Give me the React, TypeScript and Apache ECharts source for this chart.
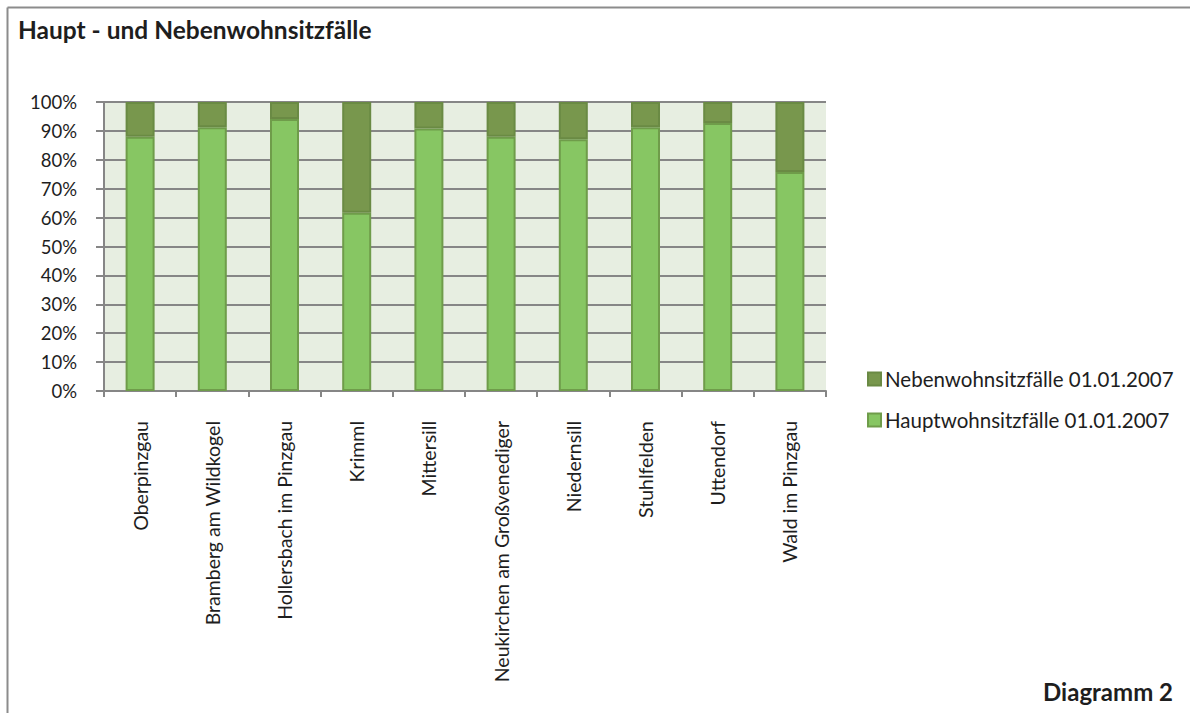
import React, { useEffect, useRef } from "react";
import * as echarts from "echarts";

const categories = [
  "Oberpinzgau",
  "Bramberg am Wildkogel",
  "Hollersbach im Pinzgau",
  "Krimml",
  "Mittersill",
  "Neukirchen am Großvenediger",
  "Niedernsill",
  "Stuhlfelden",
  "Uttendorf",
  "Wald im Pinzgau",
];
const hauptName = "Hauptwohnsitzfälle 01.01.2007";
const nebenName = "Nebenwohnsitzfälle 01.01.2007";
const hauptValues = [88.0, 91.3, 94.1, 61.7, 90.8, 88.0, 87.1, 91.3, 92.7, 75.8];
const nebenValues = [12.0, 8.7, 5.9, 38.3, 9.2, 12.0, 12.9, 8.7, 7.3, 24.2];
const titleText = "Haupt - und Nebenwohnsitzfälle";
const footerText = "Diagramm 2";

const FONT = "Lato, 'Noto Sans', sans-serif";

export default function App() {
  const ref = useRef<HTMLDivElement>(null);
  useEffect(() => {
    if (!ref.current) return;
    const chart = echarts.init(ref.current, null, { renderer: "svg" });
    chart.setOption({
      animation: false,
      backgroundColor: "#ffffff",
      title: {
        text: titleText,
        left: 18,
        top: 17,
        padding: 0,
        textStyle: { fontFamily: FONT, fontWeight: "bold", fontSize: 24.5, color: "#1e1e1e" },
      },
      legend: {
        orient: "vertical",
        left: 862,
        top: 363,
        itemWidth: 13,
        itemHeight: 13,
        itemGap: 19,
        icon: "rect",
        data: [nebenName, hauptName],
        textStyle: { fontFamily: FONT, fontSize: 20.5, color: "#1e1e1e", lineHeight: 22, padding: [0, 0, 0, -1] },
      },
      grid: { left: 104, top: 102, right: 364, bottom: 322, containLabel: false, show: true, backgroundColor: "#e7eee1", borderWidth: 0 },
      xAxis: {
        type: "category",
        data: categories,
        axisLine: { show: true, lineStyle: { color: "#868686", width: 2 } },
        axisTick: { show: true, interval: 0, length: 6, lineStyle: { color: "#868686", width: 2 } },
        axisLabel: { interval: 0, rotate: 90, margin: 30, fontFamily: FONT, fontSize: 19.5, color: "#1e1e1e" },
        splitLine: { show: false },
      },
      yAxis: {
        type: "value",
        min: 0,
        max: 100,
        interval: 10,
        axisLine: { show: true, lineStyle: { color: "#868686", width: 2 } },
        axisTick: { show: true, length: 8, lineStyle: { color: "#868686", width: 2 } },
        axisLabel: { formatter: "{value}%", margin: 27, fontFamily: FONT, fontSize: 18.5, color: "#1e1e1e" },
        splitLine: { show: true, lineStyle: { color: "#868686", width: 2 } },
      },
      series: [
        {
          name: hauptName,
          type: "bar",
          stack: "total",
          barWidth: 29,
          data: hauptValues,
          itemStyle: { color: "#87c663", borderColor: "#6f9c4a", borderWidth: 2 },
        },
        {
          name: nebenName,
          type: "bar",
          stack: "total",
          barWidth: 29,
          data: nebenValues,
          itemStyle: { color: "#78974d", borderColor: "#6a8a44", borderWidth: 2 },
        },
      ],
      graphic: [
        { type: "line", shape: { x1: 7.5, y1: 7.5, x2: 1190, y2: 7.5 }, style: { stroke: "#8c8c8c", lineWidth: 2 } },
        { type: "line", shape: { x1: 7.5, y1: 7.5, x2: 7.5, y2: 713 }, style: { stroke: "#8c8c8c", lineWidth: 2 } },
        {
          type: "text",
          right: 17,
          top: 679,
          style: { text: footerText, fontFamily: FONT, fontWeight: "bold", fontSize: 24, fill: "#1e1e1e" },
        },
      ],
    });
    return () => chart.dispose();
  }, []);
  return <div ref={ref} style={{ position: "absolute", left: 0, top: 0, width: 1190, height: 713 }} />;
}
